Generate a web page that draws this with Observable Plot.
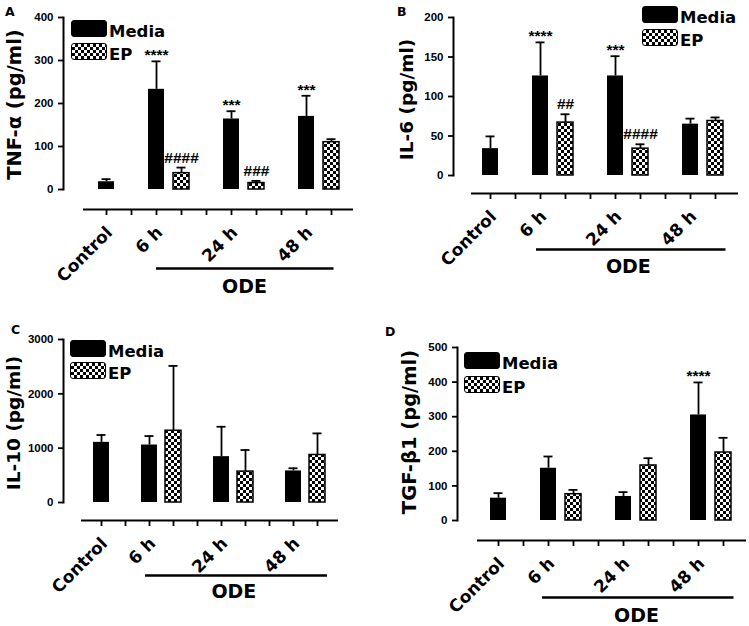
<!DOCTYPE html>
<html><head><meta charset="utf-8">
<script src="https://cdn.jsdelivr.net/npm/d3@7"></script>
<script src="https://cdn.jsdelivr.net/npm/@observablehq/plot@0.6"></script>
<style>
html,body{margin:0;padding:0;background:#fff;}
#root{position:relative;width:749px;height:626px;overflow:hidden;background:#fff;}
.panel{position:absolute;}
.letter{position:absolute;font-family:"DejaVu Sans";font-weight:bold;font-size:12.5px;line-height:12px;color:#000;}
.sw{position:absolute;box-sizing:border-box;width:36px;height:17px;border:1.5px solid #000;border-radius:3px;}
.sw.media{background:#000;}
.sw.ep{background:repeating-conic-gradient(#000 0 25%,#fff 0 50%) 0 0/6px 6px;}
.lt{position:absolute;font-family:"DejaVu Sans";font-weight:bold;font-size:16.5px;line-height:17px;color:#000;white-space:nowrap;}
</style></head>
<body>
<svg width="0" height="0" style="position:absolute">
  <defs>
    <pattern id="checker" patternUnits="userSpaceOnUse" width="6" height="6">
      <rect width="6" height="6" fill="#fff"></rect>
      <rect width="3" height="3" fill="#000"></rect>
      <rect x="3" y="3" width="3" height="3" fill="#000"></rect>
    </pattern>
  </defs>
</svg>
<div id="root"></div>
<script>
// ---- shared categories ----
const controlLabel = "Control";
const groups = ["6 h", "24 h", "48 h"];
const series = ["Media", "EP"];
const odeLabel = "ODE";

// ---- Panel A: TNF-α ----
const titleA = "TNF-α (pg/ml)";
const ticksA = [0, 100, 200, 300, 400];
const mediaA = [18, 233, 164, 170];      // Control, 6 h, 24 h, 48 h
const mediaErrA = [24, 298, 182, 218];
const epA = [38, 15, 110];               // 6 h, 24 h, 48 h
const epErrA = [51, 20, 117];
const mediaSigA = ["", "****", "***", "***"];
const epSigA = ["####", "###", ""];

// ---- Panel B: IL-6 ----
const titleB = "IL-6 (pg/ml)";
const ticksB = [0, 50, 100, 150, 200];
const mediaB = [34, 126, 126, 65];
const mediaErrB = [49.5, 168.5, 151, 72];
const epB = [67, 34, 69];
const epErrB = [77.5, 39.5, 73.5];
const mediaSigB = ["", "****", "***", ""];
const epSigB = ["##", "####", ""];

// ---- Panel C: IL-10 ----
const titleC = "IL-10 (pg/ml)";
const ticksC = [0, 1000, 2000, 3000];
const mediaC = [1107, 1058, 844, 581];
const mediaErrC = [1242, 1223, 1394, 630];
const epC = [1321, 569, 875];
const epErrC = [2514, 966, 1272];
const mediaSigC = ["", "", "", ""];
const epSigC = ["", "", ""];

// ---- Panel D: TGF-β1 ----
const titleD = "TGF-β1 (pg/ml)";
const ticksD = [0, 100, 200, 300, 400, 500];
const mediaD = [64.5, 151, 69.5, 305];
const mediaErrD = [79, 185, 82, 399];
const epD = [76, 159, 196.5];
const epErrD = [88.5, 180, 239];
const mediaSigD = ["", "", "", "****"];
const epSigD = ["", "", ""];

// ---- slot layout: Control, gap, (Media, EP) per group with gaps ----
const slots = [controlLabel + "|Media"];
groups.forEach((g, i) => { slots.push("gap" + i); series.forEach(s => slots.push(g + "|" + s)); });

function buildRows(media, mediaErr, ep, epErr, mSig, eSig) {
  const rows = [{slot: controlLabel + "|Media", series: "Media", value: media[0], err: mediaErr[0], sig: mSig[0]}];
  groups.forEach((g, i) => {
    rows.push({slot: g + "|Media", series: "Media", value: media[i + 1], err: mediaErr[i + 1], sig: mSig[i + 1]});
    rows.push({slot: g + "|EP", series: "EP", value: ep[i], err: epErr[i], sig: eSig[i]});
  });
  return rows;
}
const labelRows = [{slot: controlLabel + "|Media", label: controlLabel}].concat(groups.map(g => ({slot: g + "|Media", label: g})));

const BOLD = "DejaVu Sans";
const ARIAL = "Liberation Sans";

function panel(cfg, rows, title, ticks, yMax) {
  const plot = Plot.plot({
    width: cfg.width, height: cfg.height,
    marginLeft: cfg.ml, marginRight: cfg.mr, marginTop: cfg.mt, marginBottom: cfg.mb,
    style: {background: "transparent", overflow: "visible"},
    x: {type: "band", domain: slots, paddingInner: 0.34, paddingOuter: 0.17, insetLeft: cfg.il, insetRight: cfg.ir, axis: null},
    y: {domain: [0, yMax], axis: null},
    marks: [
      Plot.ruleX(rows, {x: "slot", y1: "value", y2: "err", stroke: "#000", strokeWidth: 1.8}),
      Plot.tickY(rows, {x: "slot", y: "err", stroke: "#000", strokeWidth: 1.8, insetLeft: 3.5, insetRight: 3.5}),
      Plot.barY(rows.filter(d => d.series === "Media"), {x: "slot", y: "value", fill: "#000"}),
      Plot.barY(rows.filter(d => d.series === "EP"), {x: "slot", y: "value", fill: "url(#checker)", stroke: "#000", strokeWidth: 1.5}),
      Plot.text(rows.filter(d => d.sig.includes("*")), {x: "slot", y: "err", text: "sig", lineAnchor: "bottom", dy: -1, fontSize: 15.5, fontWeight: "bold", fontFamily: ARIAL}),
      Plot.text(rows.filter(d => d.sig.includes("#")), {x: "slot", y: "err", text: "sig", lineAnchor: "bottom", dy: -5, fontSize: 15.5, fontWeight: "bold", fontFamily: ARIAL}),
      Plot.axisY({ticks, tickSize: 5, tickPadding: 5, tickFormat: d => String(d), fontSize: 11.5, fontWeight: "bold", fontFamily: ARIAL, strokeWidth: 1.8, label: null}),
      Plot.frame({anchor: "left", strokeWidth: 2}),
      Plot.ruleY([0], {dy: cfg.axDy, insetLeft: cfg.axIn, strokeWidth: 2}),
      Plot.axisX({ticks: slots, tickSize: 6, tickFormat: () => "", dy: cfg.axDy, strokeWidth: 1.8, label: null}),
      Plot.text(labelRows, {x: "slot", text: "label", frameAnchor: "bottom", dy: cfg.axDy + 24, dx: 7, rotate: -45, textAnchor: "end", fontSize: 17, fontWeight: "bold", fontFamily: BOLD}),
      Plot.ruleY([0], {x1: () => slots[2], x2: () => slots[9], dy: cfg.odeDy, insetLeft: cfg.odeL, insetRight: cfg.odeR, strokeWidth: 2.4}),
      Plot.text([odeLabel], {x: () => slots[5], text: d => d, frameAnchor: "bottom", dy: cfg.odeTy, dx: cfg.step / 2, fontSize: 19, fontWeight: "bold", fontFamily: BOLD}),
      Plot.text([title], {frameAnchor: "left", rotate: -90, textAnchor: "middle", dx: cfg.tdx, dy: cfg.tdy, fontSize: cfg.tfs, fontWeight: "bold", fontFamily: BOLD})
    ]
  });
  plot.classList.add("panel");
  plot.style.left = cfg.left + "px";
  plot.style.top = cfg.top + "px";
  plot.style.position = "absolute";
  return plot;
}

const root = document.getElementById("root");
const cfgA = {left: 0, top: 0, width: 375, height: 313, ml: 63, mr: 22, mt: 17, mb: 124, il: 26, ir: 5, step: 25.9, axDy: 20, axIn: 20, odeDy: 79, odeL: 8, odeR: 5.5, odeTy: 103, tdx: -49, tdy: 1, tfs: 19.5};
const cfgB = {left: 375, top: 0, width: 374, height: 313, ml: 78, mr: 11, mt: 17, mb: 138, il: 21, ir: 6, step: 25.8, axDy: 18, axIn: 18, odeDy: 74, odeL: 4, odeR: -2.5, odeTy: 97, tdx: -46, tdy: 3, tfs: 18.5};
const cfgC = {left: 0, top: 313, width: 375, height: 313, ml: 63, mr: 37, mt: 26, mb: 124, il: 22.7, ir: 5.7, step: 24.67, axDy: 18, axIn: 18, odeDy: 73, odeL: 4, odeR: -2, odeTy: 95, tdx: -49, tdy: 2, tfs: 18.5};
const cfgD = {left: 375, top: 313, width: 374, height: 313, ml: 82, mr: 3, mt: 34, mb: 106, il: 24, ir: 6, step: 25.9, axDy: 20, axIn: 20, odeDy: 77, odeL: 2, odeR: -2.5, odeTy: 101, tdx: -48, tdy: -2, tfs: 19.5};

root.appendChild(panel(cfgA, buildRows(mediaA, mediaErrA, epA, epErrA, mediaSigA, epSigA), titleA, ticksA, 400));
root.appendChild(panel(cfgB, buildRows(mediaB, mediaErrB, epB, epErrB, mediaSigB, epSigB), titleB, ticksB, 200));
root.appendChild(panel(cfgC, buildRows(mediaC, mediaErrC, epC, epErrC, mediaSigC, epSigC), titleC, ticksC, 3000));
root.appendChild(panel(cfgD, buildRows(mediaD, mediaErrD, epD, epErrD, mediaSigD, epSigD), titleD, ticksD, 500));

// panel letters
const letters = [["A", 5, 5.5], ["B", 397, 5.5], ["C", 11, 324], ["D", 385, 326]];
letters.forEach(([t, x, y]) => {
  const d = document.createElement("div");
  d.className = "letter"; d.textContent = t; d.style.left = x + "px"; d.style.top = y + "px";
  root.appendChild(d);
});

// legends
function legend(x, y, gap) {
  series.forEach((s, i) => {
    const sw = document.createElement("div");
    sw.className = "sw " + (s === "Media" ? "media" : "ep");
    sw.style.left = x + "px"; sw.style.top = (y + i * gap) + "px";
    root.appendChild(sw);
    const t = document.createElement("div");
    t.className = "lt"; t.textContent = s;
    t.style.left = (x + 38) + "px"; t.style.top = (y + i * gap + 2.5) + "px";
    root.appendChild(t);
  });
}
legend(71, 20, 23);
legend(642, 6, 23);
legend(70, 340, 22);
legend(464, 352, 24);
</script>
</body></html>
